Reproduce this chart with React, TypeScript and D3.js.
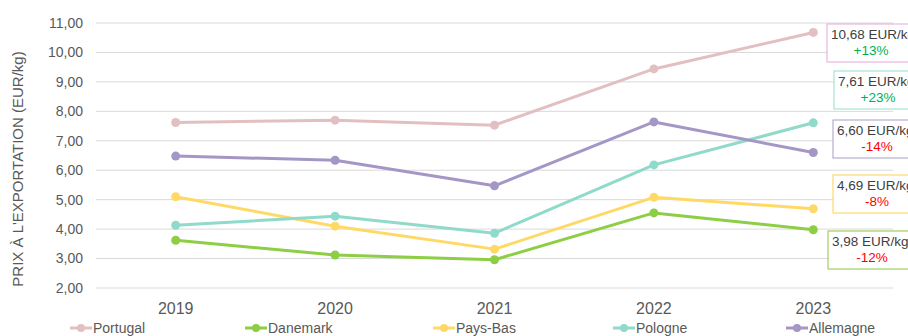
import React from "react";
import * as d3 from "d3";

const years = ["2019", "2020", "2021", "2022", "2023"];
const seriesNames = ["Portugal", "Danemark", "Pays-Bas", "Pologne", "Allemagne"];
const portugal = [7.62, 7.7, 7.53, 9.44, 10.68];
const danemark = [3.62, 3.12, 2.96, 4.55, 3.98];
const paysBas = [5.1, 4.1, 3.32, 5.08, 4.69];
const pologne = [4.13, 4.44, 3.86, 6.18, 7.61];
const allemagne = [6.48, 6.34, 5.47, 7.64, 6.6];
const seriesColors = ["#e2c0c1", "#8dce45", "#ffd966", "#8fdaca", "#a497c5"];
const yTicks = [2, 3, 4, 5, 6, 7, 8, 9, 10, 11];
const changeLabels = ["+13%", "-12%", "-8%", "+23%", "-14%"];
const boxBorders = ["#e7a5dc", "#8dc63f", "#ffd24d", "#96dccb", "#a99bc8"];
// annotation box layout, in order of series
const boxTops = [24, 231, 175, 71, 120];
const boxLefts = [827, 828, 833, 834, 833];
const legendX = [70, 245, 433, 613, 786];

const W = 908;
const H = 336;
const plotLeft = 96;
const plotRight = 893;

export default function App() {
  const values = [portugal, danemark, paysBas, pologne, allemagne];
  const x = d3.scaleBand<string>().domain(years).range([plotLeft, plotRight]);
  const y = d3.scaleLinear().domain([2, 11]).range([288, 23]);
  const cx = (yr: string) => (x(yr) as number) + x.bandwidth() / 2;
  const line = d3
    .line<number>()
    .x((_, i) => cx(years[i]))
    .y((v) => y(v));
  const font = "'Liberation Sans', Arial, sans-serif";
  const fmt = (v: number) => v.toFixed(2).replace(".", ",");

  return (
    <svg
      width={W}
      height={H}
      style={{ position: "absolute", left: 0, top: 0, background: "#fff" }}
      fontFamily={font}
    >
      {yTicks.map((t) => (
        <g key={t}>
          <line x1={plotLeft} x2={plotRight} y1={y(t)} y2={y(t)} stroke="#d9d9d9" strokeWidth={1} />
          <text x={83} y={y(t)} dy="0.35em" textAnchor="end" fontSize={14} fill="#595959">
            {fmt(t)}
          </text>
        </g>
      ))}
      <text
        transform={`translate(23,169) rotate(-90)`}
        textAnchor="middle"
        fontSize={15}
        fill="#595959"
      >
        PRIX À L'EXPORTATION (EUR/kg)
      </text>
      {years.map((yr) => (
        <text key={yr} x={cx(yr)} y={314} textAnchor="middle" fontSize={16} fill="#595959">
          {yr}
        </text>
      ))}
      {values.map((vals, si) => (
        <g key={seriesNames[si]}>
          <path d={line(vals) || ""} fill="none" stroke={seriesColors[si]} strokeWidth={3} strokeLinejoin="round" />
          {vals.map((v, i) => (
            <circle key={i} cx={cx(years[i])} cy={y(v)} r={4.5} fill={seriesColors[si]} />
          ))}
        </g>
      ))}
      {values.map((vals, si) => {
        const last = vals[vals.length - 1];
        const top = boxTops[si];
        const left = boxLefts[si];
        const up = changeLabels[si].startsWith("+");
        return (
          <g key={"box" + si}>
            <rect x={left} y={top} width={100} height={38} fill="#fff" stroke={boxBorders[si]} strokeWidth={1} />
            <text x={left + 4} y={top + 15} fontSize={13.5} fill="#404040">
              {fmt(last)} EUR/kg
            </text>
            <text x={left + 44} y={top + 31} textAnchor="middle" fontSize={13.5} fill={up ? "#00b050" : "#ff0000"}>
              {changeLabels[si]}
            </text>
          </g>
        );
      })}
      {seriesNames.map((name, si) => (
        <g key={"leg" + si} transform={`translate(${legendX[si]},328)`}>
          <line x1={0} x2={22} y1={0} y2={0} stroke={seriesColors[si]} strokeWidth={3} />
          <circle cx={11} cy={0} r={4} fill={seriesColors[si]} />
          <text x={23} y={0} dy="0.35em" fontSize={14} fill="#595959">
            {name}
          </text>
        </g>
      ))}
    </svg>
  );
}
